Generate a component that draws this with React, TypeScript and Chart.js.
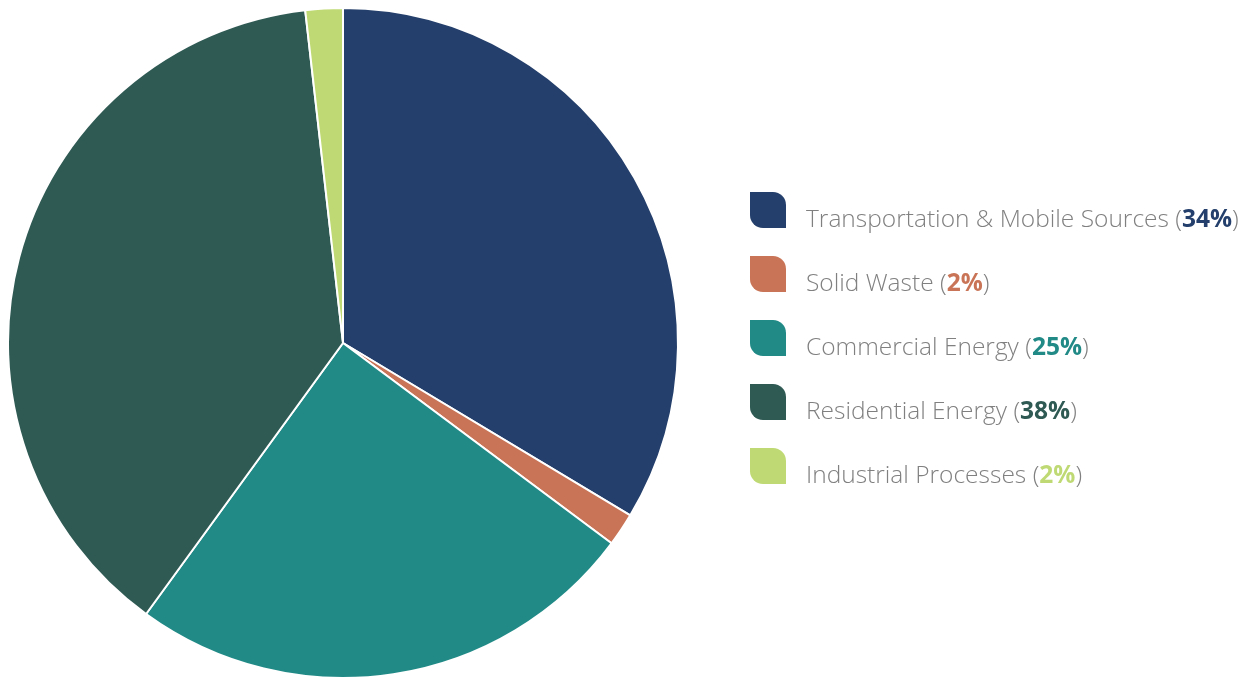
import React, { useEffect, useRef } from "react";
import { Chart, registerables } from "chart.js";

Chart.register(...registerables);

const categories = [
  "Transportation & Mobile Sources",
  "Solid Waste",
  "Commercial Energy",
  "Residential Energy",
  "Industrial Processes",
];
const values = [33.6, 1.6, 24.8, 38.2, 1.8];
const pctLabels = ["34%", "2%", "25%", "38%", "2%"];
const colors = ["#243F6B", "#C97456", "#218A87", "#2F5A54", "#BFDA74"];

const legendPlugin = {
  id: "leafLegend",
  afterDraw(chart: any) {
    const ctx = chart.ctx as CanvasRenderingContext2D;
    const x0 = 743;
    const yTop0 = 185;
    const step = 64;
    const size = 36;
    const r = 13;
    const font = '"Open Sans", "Noto Sans", sans-serif';
    const fs = 24.5;
    ctx.save();
    categories.forEach((cat, i) => {
      const y = yTop0 + i * step;
      ctx.fillStyle = colors[i];
      ctx.beginPath();
      ctx.moveTo(x0, y);
      ctx.lineTo(x0 + size - r, y);
      ctx.arcTo(x0 + size, y, x0 + size, y + r, r);
      ctx.lineTo(x0 + size, y + size);
      ctx.lineTo(x0 + r, y + size);
      ctx.arcTo(x0, y + size, x0, y + size - r, r);
      ctx.closePath();
      ctx.fill();

      const baseline = y + 35;
      let tx = x0 + 56;
      ctx.textBaseline = "alphabetic";
      ctx.font = `300 ${fs}px ${font}`;
      ctx.fillStyle = "#808080";
      const t1 = cat + " (";
      ctx.fillText(t1, tx, baseline);
      tx += ctx.measureText(t1).width;
      ctx.font = `700 ${fs}px ${font}`;
      ctx.fillStyle = colors[i];
      ctx.fillText(pctLabels[i], tx, baseline);
      tx += ctx.measureText(pctLabels[i]).width;
      ctx.font = `300 ${fs}px ${font}`;
      ctx.fillStyle = "#808080";
      ctx.fillText(")", tx, baseline);
    });
    ctx.restore();
  },
};

export default function App() {
  const ref = useRef<HTMLCanvasElement>(null);
  useEffect(() => {
    if (!ref.current) return;
    const chart = new Chart(ref.current, {
      type: "pie",
      data: {
        labels: categories,
        datasets: [
          {
            data: values,
            backgroundColor: colors,
            borderColor: "#ffffff",
            borderWidth: 2,
          },
        ],
      },
      options: {
        animation: false,
        responsive: false,
        maintainAspectRatio: false,
        layout: { padding: { left: 0, right: 562, top: 0, bottom: 0 } },
        plugins: { legend: { display: false }, tooltip: { enabled: false } },
      },
      plugins: [legendPlugin],
    });
    return () => chart.destroy();
  }, []);
  return (
    <div style={{ width: 1234, height: 669, overflow: "visible" }}>
      <canvas
        ref={ref}
        width={1234}
        height={672}
        style={{ display: "block", position: "relative", left: -1, top: -1 }}
      />
    </div>
  );
}
